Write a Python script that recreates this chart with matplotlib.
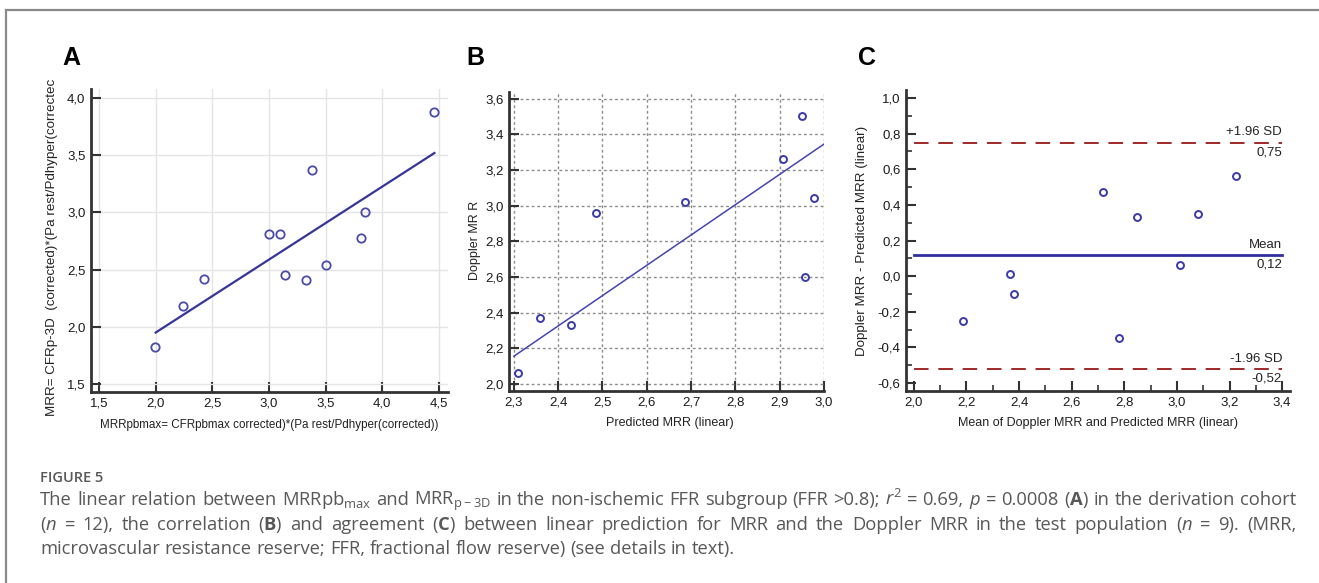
import matplotlib
matplotlib.use("Agg")
import numpy as np
import matplotlib.pyplot as plt
from matplotlib.ticker import FuncFormatter, MultipleLocator
from matplotlib.lines import Line2D

# panel A: derivation cohort (n = 12)
a_x = [1.99, 2.24, 2.43, 3.00, 3.10, 3.14, 3.33, 3.38, 3.50, 3.81, 3.85, 4.46]
a_y = [1.82, 2.18, 2.42, 2.81, 2.81, 2.45, 2.41, 3.37, 2.54, 2.78, 3.00, 3.88]
a_fit_x = [2.00, 4.46]
a_fit_y = [1.95, 3.52]

# panel B: predicted vs Doppler MRR (n = 9)
b_x = [2.31, 2.36, 2.43, 2.485, 2.687, 2.907, 2.95, 2.958, 2.978]
b_y = [2.06, 2.37, 2.33, 2.96, 3.02, 3.26, 3.50, 2.60, 3.04]
b_fit_x = [2.30, 3.00]
b_fit_y = [2.155, 3.345]

# panel C: Bland-Altman
c_mean = [2.185, 2.365, 2.38, 2.72, 2.78, 2.85, 3.01, 3.08, 3.225]
c_diff = [-0.25, 0.01, -0.10, 0.47, -0.35, 0.33, 0.06, 0.35, 0.56]
c_bias = 0.12
c_upper = 0.75
c_lower = -0.52

plt.rcParams['font.family'] = ['Liberation Sans', 'DejaVu Sans']
plt.rcParams['mathtext.fontset'] = 'custom'
plt.rcParams['mathtext.rm'] = 'Open Sans'
plt.rcParams['mathtext.it'] = 'Open Sans:italic'
plt.rcParams['mathtext.bf'] = 'Open Sans:bold'

W, H = 1319, 583
fig = plt.figure(figsize=(W / 100, H / 100), dpi=100)


def box(l, t, r, b):
    return [l / W, 1 - b / H, (r - l) / W, (b - t) / H]


def fmt(v, pos=None, nd=1):
    if abs(v) < 1e-9:
        v = 0.0
    return f"{v:.{nd}f}".replace('.', ',')


def style(ax):
    for s in ['top', 'right']:
        ax.spines[s].set_visible(False)
    for s in ['left', 'bottom']:
        ax.spines[s].set_linewidth(2)
        ax.spines[s].set_color('#333333')
    ax.tick_params(which='major', direction='in', length=7, width=1.5, color='#333333',
                   labelsize=9.5, labelcolor='#1a1a1a', pad=4)
    ax.tick_params(which='minor', direction='in', length=4, width=1.2, color='#333333')
    ax.xaxis.set_major_formatter(FuncFormatter(fmt))
    ax.yaxis.set_major_formatter(FuncFormatter(fmt))
    ax.set_axisbelow(True)


# frame lines
fig.add_artist(Line2D([6 / W, 1], [1 - 10 / H, 1 - 10 / H], color='#8a8a8a', lw=1.6))
fig.add_artist(Line2D([6 / W, 6 / W], [1 - 10 / H, 0], color='#8a8a8a', lw=1.6))

# ---- A
axA = fig.add_axes(box(91, 89, 448, 392))
style(axA)
axA.set_xlim(1.429, 4.58)
axA.set_ylim(1.43, 4.08)
axA.xaxis.set_major_locator(MultipleLocator(0.5))
axA.yaxis.set_major_locator(MultipleLocator(0.5))
axA.grid(True, color='#e4e4e4', lw=1)
axA.plot(a_fit_x, a_fit_y, color='#35359a', lw=1.6)
axA.plot(a_x, a_y, 'o', ms=6, mfc='none', mec='#4a4aa8', mew=1.3)
fig.text(269 / W, 1 - 425 / H, 'MRRpbmax= CFRpbmax corrected)*(Pa rest/Pdhyper(corrected))',
         ha='center', va='center', fontsize=8.4, color='#222222')
fig.text(52 / W, 1 - 247 / H, 'MRR= CFRp-3D  (corrected)*(Pa rest/Pdhyper(correctec',
         ha='center', va='center', rotation=90, fontsize=9.6, color='#222222')

# ---- B
axB = fig.add_axes(box(509, 92, 824, 391))
style(axB)
axB.set_xlim(2.289, 3.0)
axB.set_ylim(1.96, 3.637)
axB.xaxis.set_major_locator(MultipleLocator(0.1))
axB.yaxis.set_major_locator(MultipleLocator(0.2))
axB.grid(True, color='#8c8c8c', lw=1, linestyle=(0, (2, 2)))
axB.plot(b_fit_x, b_fit_y, color='#4545b0', lw=1.1)
axB.plot(b_x, b_y, 'o', ms=5, mfc='none', mec='#3a3aa8', mew=1.4)
fig.text(670 / W, 1 - 423 / H, 'Predicted MRR (linear)',
         ha='center', va='center', fontsize=9, color='#222222')
fig.text(475 / W, 1 - 240 / H, 'Doppler MR R',
         ha='center', va='center', rotation=90, fontsize=9, color='#222222')

# ---- C
axC = fig.add_axes(box(906, 90, 1290, 391))
style(axC)
axC.set_xlim(1.97, 3.43)
axC.set_ylim(-0.645, 1.045)
axC.xaxis.set_major_locator(MultipleLocator(0.2))
axC.xaxis.set_minor_locator(MultipleLocator(0.1))
axC.yaxis.set_major_locator(MultipleLocator(0.2))
axC.yaxis.set_minor_locator(MultipleLocator(0.1))
axC.plot([2.0, 3.4], [c_upper, c_upper], color='#a02828', lw=1.4, dashes=(7.5, 5))
axC.plot([2.0, 3.4], [c_lower, c_lower], color='#a02828', lw=1.4, dashes=(7.5, 5))
axC.plot([2.0, 3.4], [c_bias, c_bias], color='#3030a0', lw=2)
axC.plot(c_mean, c_diff, 'o', ms=5, mfc='none', mec='#3a3aa8', mew=1.4)
for val, name in [(c_upper, '+1.96 SD'), (c_bias, 'Mean'), (c_lower, '-1.96 SD')]:
    axC.annotate(name, (3.4, val), xytext=(0, 3), textcoords='offset points',
                 ha='right', va='bottom', fontsize=9.5, color='#222222')
    axC.annotate(fmt(val, nd=2), (3.4, val), xytext=(0, -3), textcoords='offset points',
                 ha='right', va='top', fontsize=9.5, color='#222222')
fig.text(1098 / W, 1 - 423 / H, 'Mean of Doppler MRR and Predicted MRR (linear)',
         ha='center', va='center', fontsize=9, color='#222222')
fig.text(862 / W, 1 - 241 / H, 'Doppler MRR - Predicted MRR (linear)',
         ha='center', va='center', rotation=90, fontsize=9.6, color='#222222')

# panel letters
for x, letter in [(62, 'A'), (466, 'B'), (858, 'C')]:
    fig.text(x / W, 1 - 65 / H, letter, fontsize=18, fontweight='bold',
             va='baseline', ha='left', color='black')

# caption
cap_color = '#585858'
fig.text(40 / W, 1 - 482 / H, 'FIGURE 5', fontsize=10.5, family='Open Sans',
         fontweight='semibold', color=cap_color, va='baseline')

line1 = (r"The linear relation between MRRpb$_{\mathrm{max}}$ and MRR$_{\mathrm{p-3D}}$ in the "
         r"non-ischemic FFR subgroup (FFR >0.8); $r^2$ = 0.69, $p$ = 0.0008 ($\mathbf{A}$) "
         r"in the derivation cohort")
line2 = (r"($n$ = 12), the correlation ($\mathbf{B}$) and agreement ($\mathbf{C}$) between linear "
         r"prediction for MRR and the Doppler MRR in the test population ($n$ = 9). (MRR,")
line3 = "microvascular resistance reserve; FFR, fractional flow reserve) (see details in text)."

renderer = fig.canvas.get_renderer()
cap_size = 13.2


def caption_line(text, base, justify):
    words = text.split(' ')
    objs = [fig.text(0, 1 - base / H, w, fontsize=cap_size, family='Open Sans',
                     color=cap_color, va='baseline', ha='left') for w in words]
    widths = [o.get_window_extent(renderer).width for o in objs]
    x0, x1 = 40, 1296
    if justify:
        gap = (x1 - x0 - sum(widths)) / (len(words) - 1)
    else:
        gap = cap_size * 0.26 * 100 / 72
    x = x0
    for o, w in zip(objs, widths):
        o.set_x(x / W)
        x += w + gap


caption_line(line1, 505, True)
caption_line(line2, 530, True)
caption_line(line3, 554, False)

fig.savefig('out.png', dpi=100)
